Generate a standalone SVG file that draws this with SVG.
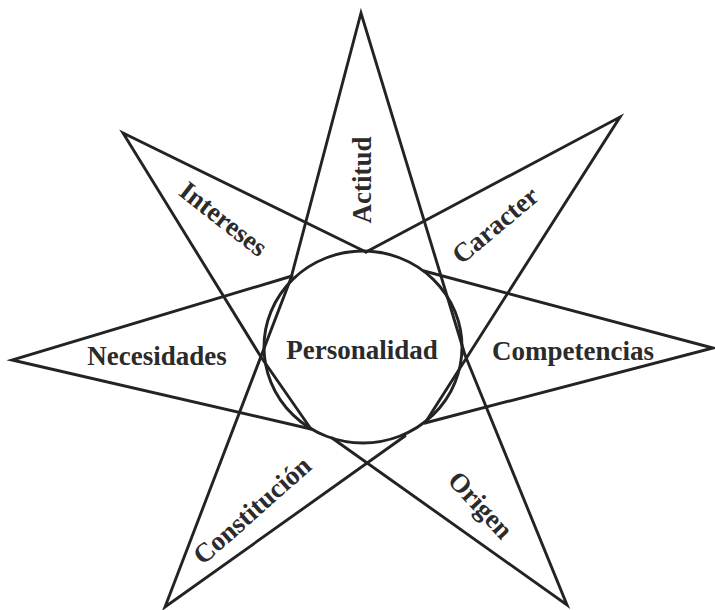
<svg xmlns="http://www.w3.org/2000/svg" width="715" height="610" viewBox="0 0 715 610">
<style>
.s{stroke:#232323;stroke-width:2.9;fill:none;stroke-linecap:round;stroke-linejoin:miter}
.t{font-family:"Liberation Serif","Times New Roman",serif;font-weight:bold;font-size:27px;fill:#2b2b2b;text-anchor:middle}
</style>
<rect width="715" height="610" fill="#ffffff"/>
<g id="connectors">
<path class="s" d="M291,278 L361,13 L465,355"/>
<path class="s" d="M366,252 L620,117 L425,423"/>
<path class="s" d="M424,271 L713,348 L425,423"/>
<path class="s" d="M465,355 L567,605 L332,438"/>
<path class="s" d="M405,436 L165,607 L291,278"/>
<path class="s" d="M292,276 L12,360 L311,429"/>
<path class="s" d="M366,252 L123,133 L261,357 L311,429"/>
</g>
<g id="personalidad"><ellipse class="s" cx="363" cy="347" rx="99" ry="96"/><text class="t" x="362" y="359">Personalidad</text></g>
<g id="actitud"><text class="t" transform="translate(371,180) rotate(-90)">Actitud</text></g>
<g id="caracter"><text class="t" transform="translate(501,232) rotate(-40)">Caracter</text></g>
<g id="competencias"><text class="t" x="573" y="360">Competencias</text></g>
<g id="origen"><text class="t" transform="translate(474,511) rotate(47)">Origen</text></g>
<g id="constitucion"><text class="t" transform="translate(258,517) rotate(-41.6)">Constitución</text></g>
<g id="necesidades"><text class="t" x="157" y="365">Necesidades</text></g>
<g id="intereses"><text class="t" transform="translate(218,226) rotate(38)">Intereses</text></g>
</svg>
